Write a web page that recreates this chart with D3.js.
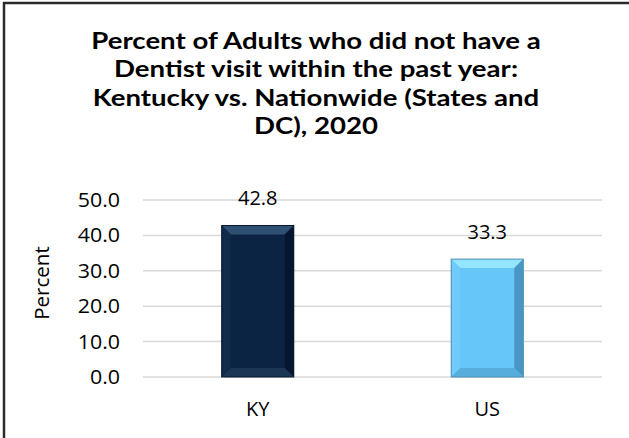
<!DOCTYPE html>
<html>
<head>
<meta charset="utf-8">
<script src="https://cdn.jsdelivr.net/npm/d3@7"></script>
<style>
  html, body { margin: 0; padding: 0; background: #fff; }
  svg { display: block; }
  text { font-family: "Open Sans", Lato, sans-serif; fill: #000; }
</style>
</head>
<body>
<div id="chart"></div>
<script>
// ---- data ----
const categories = ["KY", "US"];
const values = [42.8, 33.3];
const tickValues = [0, 10, 20, 30, 40, 50];
const titleLines = [
  "Percent of Adults who did not have a",
  "Dentist visit within the past year:",
  "Kentucky vs. Nationwide (States and",
  "DC), 2020"
];
const yAxisTitle = "Percent";

// ---- style ----
const W = 629, H = 438;
const FONT = "'Open Sans', Lato, sans-serif";
const barColors = {
  KY: { face: "#0b2444", top: "#2f5073", left: "#112b4a", right: "#061630", bottom: "#1b3655", edge: "#08182e" },
  US: { face: "#67c6f9", top: "#93e6fe", left: "#6ecbfb", right: "#4896c4", bottom: "#57aedd", edge: "#4a8db5" }
};

const svg = d3.select("#chart").append("svg")
  .attr("width", W).attr("height", H);

svg.append("rect").attr("width", W).attr("height", H).attr("fill", "#fff");

// frame (top and left edges visible)
svg.append("path")
  .attr("d", `M4,${H + 5} V3 H${W + 5}`)
  .attr("fill", "none").attr("stroke", "#2b2b2b").attr("stroke-width", 2.5);

// title (one text per line, slightly widened)
const titleG = svg.append("g").attr("transform", "translate(316,0) scale(1.2,1)");
titleG.selectAll("text").data(titleLines).join("text")
  .attr("x", 0)
  .attr("y", (d, i) => 49 + i * 28.5)
  .attr("text-anchor", "middle")
  .attr("font-family", "Lato, sans-serif")
  .style("font-family", "Lato, sans-serif")
  .attr("font-weight", "bold")
  .attr("font-size", 23)
  .text(d => d);

// scales
const x = d3.scaleBand().domain(categories).range([143, 602])
  .paddingInner(0.686).paddingOuter(0.343);
const y = d3.scaleLinear().domain([0, 50]).range([377, 200]);

// gridlines
svg.append("g").selectAll("line").data(tickValues).join("line")
  .attr("x1", 143).attr("x2", 602)
  .attr("y1", d => y(d)).attr("y2", d => y(d))
  .attr("stroke", "#d9d9d9").attr("stroke-width", 1.5);

// y axis labels
const yAxis = d3.axisLeft(y).tickValues(tickValues).tickFormat(d3.format(".1f")).tickSize(0).tickPadding(0);
const yg = svg.append("g").attr("transform", "translate(120,0)").call(yAxis);
yg.select(".domain").remove();
yg.selectAll("text").attr("font-size", 20).attr("font-family", FONT).attr("fill", "#000")
  .attr("transform", "scale(1.07,1)").attr("x", 0);

// x axis labels
const xAxis = d3.axisBottom(x).tickSize(0).tickPadding(0);
const xg = svg.append("g").attr("transform", "translate(0,402)").call(xAxis);
xg.select(".domain").remove();
xg.selectAll("text").attr("font-size", 20).attr("font-family", FONT).attr("fill", "#000").attr("dy", "0.71em");

// y axis title
svg.append("text")
  .attr("transform", `translate(49,283) rotate(-90)`)
  .attr("text-anchor", "middle")
  .attr("font-size", 20.5)
  .text(yAxisTitle);

// bars with bevel
const data = categories.map((c, i) => ({ cat: c, value: values[i] }));
const bars = svg.append("g").selectAll("g").data(data).join("g");
const bev = 9;
bars.each(function (d) {
  const g = d3.select(this);
  const c = barColors[d.cat];
  const x0 = x(d.cat), x1 = x(d.cat) + x.bandwidth();
  const y0 = y(d.value), y1 = y(0);
  const pts = a => a.map(p => p.join(",")).join(" ");
  g.append("rect").attr("x", x0).attr("y", y0).attr("width", x1 - x0).attr("height", y1 - y0).attr("fill", c.face);
  g.append("polygon").attr("points", pts([[x0, y0], [x1, y0], [x1 - bev, y0 + bev], [x0 + bev, y0 + bev]])).attr("fill", c.top);
  g.append("polygon").attr("points", pts([[x0, y0], [x0 + bev, y0 + bev], [x0 + bev, y1 - bev], [x0, y1]])).attr("fill", c.left);
  g.append("polygon").attr("points", pts([[x1, y0], [x1 - bev, y0 + bev], [x1 - bev, y1 - bev], [x1, y1]])).attr("fill", c.right);
  g.append("polygon").attr("points", pts([[x0, y1], [x0 + bev, y1 - bev], [x1 - bev, y1 - bev], [x1, y1]])).attr("fill", c.bottom);
  g.append("rect").attr("x", x0).attr("y", y0).attr("width", x1 - x0).attr("height", y1 - y0)
    .attr("fill", "none").attr("stroke", c.edge).attr("stroke-width", 1);
});

// data labels
svg.append("g").selectAll("text").data(data).join("text")
  .attr("x", d => x(d.cat) + x.bandwidth() / 2)
  .attr("y", d => y(d.value) - 20)
  .attr("text-anchor", "middle")
  .attr("font-size", 20)
  .text(d => d.value.toFixed(1));
</script>
</body>
</html>
